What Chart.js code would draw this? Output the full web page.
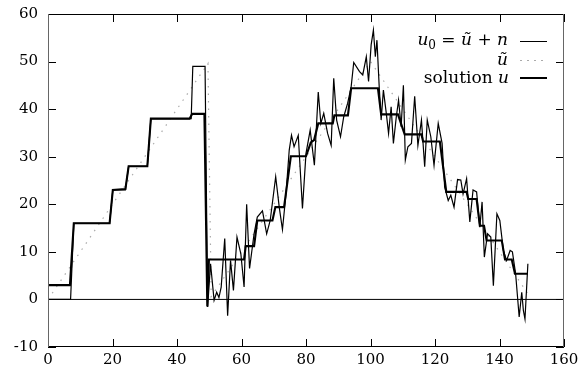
<!DOCTYPE html>
<html><head><meta charset="utf-8">
<script src="https://cdn.jsdelivr.net/npm/chart.js@4/dist/chart.umd.min.js"></script>
<style>
html,body{margin:0;padding:0;background:#fff;}
#wrap{position:relative;width:581px;height:375px;overflow:hidden;}
canvas{position:absolute;left:0;top:0;}
.lg{position:absolute;right:73px;font-family:'DejaVu Serif',serif;font-size:17px;line-height:18px;white-space:nowrap;text-align:right;color:#000;}
.lg sub{font-size:12px;line-height:0;vertical-align:-4px;}
.smp{position:absolute;left:520px;width:27px;}
</style></head>
<body>
<div id="wrap">
<canvas id="c" width="581" height="375"></canvas>
<div class="lg" style="top:30px"><i>u</i><sub>0</sub> = <i>ũ</i> + <i>n</i></div>
<div class="lg" style="top:50px"><i>ũ</i></div>
<div class="lg" style="top:68px;right:72px">solution <i>u</i></div>
<div class="smp" style="top:41px;height:1px;background:#000;"></div>
<div class="smp" style="top:60px;height:1px;background:repeating-linear-gradient(to right,#aaa 0 1.5px,transparent 1.5px 7px);"></div>
<div class="smp" style="top:77px;height:2.2px;background:#000;"></div>
</div>
<script>
// Axis ticks
const xTicks = [0,20,40,60,80,100,120,140,160];
const yTicks = [-10,0,10,20,30,40,50,60];

// Noisy data u0 = ũ + n
const u0X = [0,7,8,19.1,20.1,24,25,30.8,31.9,44.4,44.9,48.7,49.5,50.4,51.5,52.3,53.0,53.7,54.8,55.7,56.6,57.5,58.6,59.8,60.8,61.6,62.5,63.9,64.9,66.5,67.8,68.9,70.6,71.7,72.7,73.8,74.8,75.5,76.3,77.6,78.9,80,81.3,82.6,83.8,84.6,85.5,86.7,87.8,88.6,89.5,90.7,91.7,92.9,94,94.8,96.6,97.6,98.7,99.4,100.2,100.9,101.5,102,102.7,103.3,104,104.9,105.6,106.4,107.1,108,108.7,109.5,110.2,110.8,111.6,112.7,113.7,114.7,115.8,116.8,117.6,118.7,119.7,121,122.2,123,124.1,124.9,125.9,127,128,128.7,129.8,130.8,131.8,132.9,133.9,134.6,135.3,136.3,137.3,138.1,139.2,140.1,141.2,142.2,143.3,144,145,146.1,146.9,147.4,147.9,148.8];
const u0Y = [0,0,16,16,23,23,28,28,38,38,49,49,-1.6,7.5,-0.2,1.5,0.4,2.6,12.8,-3.4,8.2,1.9,13.1,9.6,2.6,20,6.5,13.8,17.3,18.6,13.8,16.6,25.8,19.4,14.7,22.2,31.4,34.5,32.1,34.5,19.1,30.7,35.6,28.2,43.6,37,39.1,34.9,32.4,46.5,37.7,34.2,38.4,41.2,44.7,49.8,47.9,47.2,51,45.8,53.5,56.6,51,54.5,44.7,37.7,44,39.1,34.9,40.5,32.8,38.4,41.9,36.3,45,29.3,32.1,32.8,42.7,32.4,37.7,27.9,37.7,34.2,28.2,37,32.8,23.6,20.8,21.9,19.4,25.2,25.1,22.2,25.4,16.3,23,22.6,15.2,20.5,8.9,13.8,13.1,2.9,18,16.6,10.3,8.2,10.3,10,5.4,-3.7,1.5,-2.3,-4.1,7.5];

// True signal ũ (breakpoints)
const utX = [0,49.6,50.6,100,149];
const utY = [0,49.6,0.6,50,1];

// Solution u
const uX = [0,6.8,8,19.1,20.1,24,25,30.8,31.9,43.9,44.7,48.5,49.4,49.9,60.8,61.3,63.9,64.9,69.6,70.5,73.2,75.3,80,81.5,82.5,83.8,88.3,88.8,93,94,102.3,103.3,108.5,110.6,115.8,116.3,121.5,123.5,129.8,130.3,132.9,133.9,135.2,136,140.7,141.7,143.8,144.8,148.8];
const uY = [3,3,16,16,23,23.2,28,28,38,38,39,39,-1.5,8.4,8.4,11.2,11.2,16.6,16.6,19.4,19.4,30.1,30.1,33,33.5,37,37,38.7,38.7,44.4,44.4,38.9,38.9,34.7,34.7,33.2,33.2,22.6,22.6,21.1,21.1,15.5,15.5,12.4,12.4,8.4,8.4,5.4,5.4];

// Zero reference line
const zeroX = [0,160];
const zeroY = [0,0];

const pts = (xs, ys) => xs.map((x, i) => ({x: x, y: ys[i]}));

const frame = {
  id: 'frame',
  afterDatasetsDraw(chart) {
    const ctx = chart.ctx, a = chart.chartArea, x = chart.scales.x, y = chart.scales.y;
    ctx.save();
    ctx.lineWidth = 1;
    ctx.strokeStyle = '#000';
    ctx.beginPath();
    xTicks.forEach(v => {
      const p = Math.round(x.getPixelForValue(v)) + 0.5;
      ctx.moveTo(p, a.bottom); ctx.lineTo(p, a.bottom - 8);
      ctx.moveTo(p, a.top); ctx.lineTo(p, a.top + 8);
    });
    yTicks.forEach(v => {
      const p = Math.round(y.getPixelForValue(v)) + 0.5;
      ctx.moveTo(a.left, p); ctx.lineTo(a.left + 8, p);
      ctx.moveTo(a.right, p); ctx.lineTo(a.right - 8, p);
    });
    ctx.stroke();
    ctx.beginPath();
    ctx.moveTo(a.left, a.top + 0.5); ctx.lineTo(a.right, a.top + 0.5);
    ctx.moveTo(a.left, a.bottom - 0.5); ctx.lineTo(a.right, a.bottom - 0.5);
    ctx.stroke();
    ctx.strokeStyle = '#666';
    ctx.beginPath();
    ctx.moveTo(a.left + 0.5, a.top); ctx.lineTo(a.left + 0.5, a.bottom);
    ctx.moveTo(a.right - 0.5, a.top); ctx.lineTo(a.right - 0.5, a.bottom);
    ctx.stroke();
    ctx.restore();
  }
};

const tickFont = {family: "'DejaVu Serif', serif", size: 15};

new Chart(document.getElementById('c'), {
  type: 'scatter',
  data: {
    datasets: [
      {label: 'solution u', data: pts(uX, uY), showLine: true, borderColor: '#000', borderWidth: 2.1, pointRadius: 0, order: 0},
      {label: 'u0', data: pts(u0X, u0Y), showLine: true, borderColor: '#000', borderWidth: 1.2, pointRadius: 0, order: 1},
      {label: 'ũ', data: pts(utX, utY), showLine: true, borderColor: '#aaa', borderWidth: 1.2, borderDash: [1.5, 6], pointRadius: 0, order: 2},
      {label: 'zero', data: pts(zeroX, zeroY), showLine: true, borderColor: '#000', borderWidth: 1, pointRadius: 0, order: 3}
    ]
  },
  options: {
    responsive: false,
    devicePixelRatio: 1,
    animation: false,
    events: [],
    layout: {padding: {left: 0, right: 17, top: 14, bottom: 0}},
    plugins: {legend: {display: false}, tooltip: {enabled: false}},
    scales: {
      x: {
        type: 'linear', min: 0, max: 160,
        afterBuildTicks: s => { s.ticks = xTicks.map(v => ({value: v})); },
        grid: {display: false, drawTicks: false},
        border: {display: false},
        ticks: {padding: 4, font: tickFont, color: '#000', maxRotation: 0, autoSkip: false},
        afterFit: s => { s.height = 28; s.paddingLeft = 0; s.paddingRight = 0; }
      },
      y: {
        type: 'linear', min: -10, max: 60,
        afterBuildTicks: s => { s.ticks = yTicks.map(v => ({value: v})); },
        grid: {display: false, drawTicks: false},
        border: {display: false},
        ticks: {padding: 10, font: tickFont, color: '#000', autoSkip: false},
        afterFit: s => { s.width = 48; s.paddingTop = 0; s.paddingBottom = 0; }
      }
    }
  },
  plugins: [frame]
});
</script>
</body></html>
